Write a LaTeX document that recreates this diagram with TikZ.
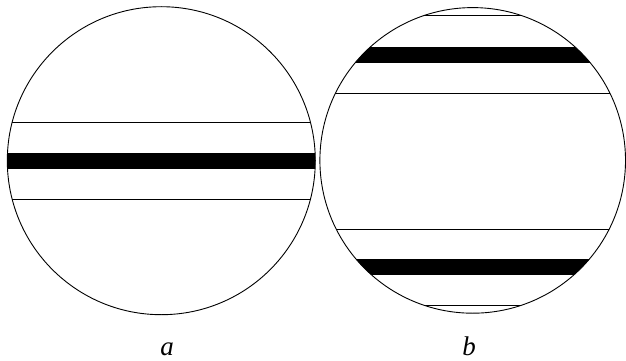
\documentclass[tikz,border=0pt]{standalone}
\usepackage{fontspec}
\setmainfont{Liberation Serif}
\begin{document}
\begin{tikzpicture}[x=1pt,y=-1pt,
  rim/.style={line width=0.9pt},
  chord/.style={line width=1pt},
  band/.style={fill=black},
  lab/.style={anchor=base,inner sep=0pt,font=\fontsize{27}{30}\selectfont\itshape}]
\useasboundingbox (0,0) rectangle (626,361);
% circle a
\begin{scope}
  \clip (161.3,160.7) circle[radius=154pt];
  \fill[band] (0,153.2) rectangle (330,168.8);
  \draw[chord] (0,122.3) -- (330,122.3);
  \draw[chord] (0,199.3) -- (330,199.3);
\end{scope}
\draw[rim] (161.3,160.7) circle[radius=154pt];
% circle b
\begin{scope}
  \clip (472.7,160.4) circle[radius=152.8pt];
  \draw[chord] (310,16) -- (626,16);
  \fill[band] (310,47.3) rectangle (626,62.7);
  \draw[chord] (310,93.7) -- (626,93.7);
  \draw[chord] (310,229) -- (626,229);
  \fill[band] (310,259.3) rectangle (626,275.3);
  \draw[chord] (310,305.3) -- (626,305.3);
\end{scope}
\draw[rim] (472.7,160.4) circle[radius=152.8pt];
% labels
\node[lab] (la) at (167,355) {a};
\node[lab] (lb) at (469,355) {b};
\end{tikzpicture}
\end{document}
